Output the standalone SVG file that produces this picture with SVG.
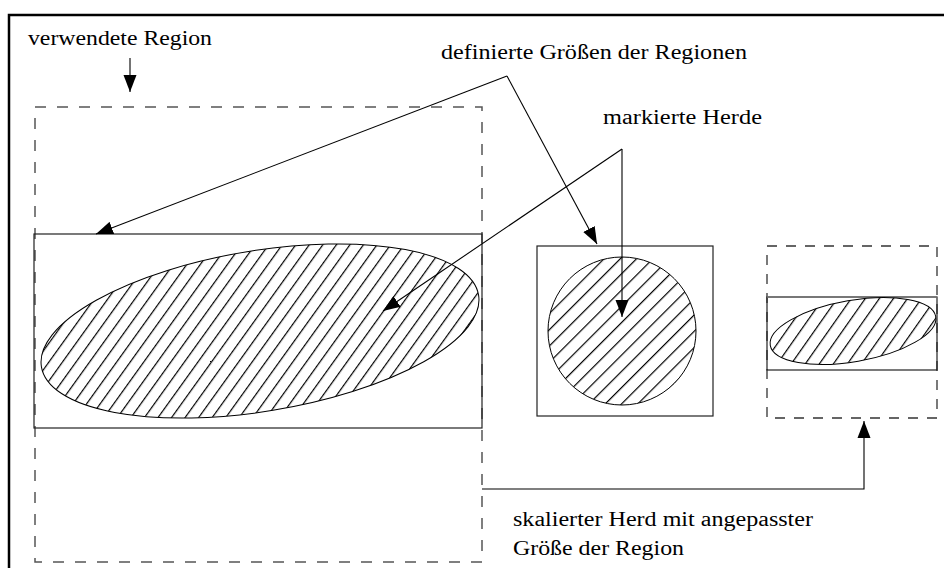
<svg xmlns="http://www.w3.org/2000/svg" width="944" height="568" viewBox="0 0 944 568">
<style>
.txt{font-family:"Liberation Serif","Times New Roman",serif;font-size:20.5px;fill:#000}
.box{fill:none;stroke:#222;stroke-width:1.2}
.dash{fill:none;stroke:#555;stroke-width:1.5;stroke-dasharray:11 11}
.dash2{fill:none;stroke:#333;stroke-width:1.3;stroke-dasharray:10 9}
.ell{stroke:#000;stroke-width:1}
.conn{fill:none;stroke:#000;stroke-width:1.1}
</style>
<defs>
<marker id="arr" markerUnits="userSpaceOnUse" viewBox="0 -7 18 14" refX="17" refY="0" markerWidth="18" markerHeight="14" orient="auto">
<path d="M0,-6.5 L17,0 L0,6.5 z" fill="#000"/>
</marker>
<pattern id="hatchA" patternUnits="userSpaceOnUse" width="11" height="11" patternTransform="rotate(45)">
<rect width="11" height="11" fill="#fff"/>
<line x1="0" y1="0" x2="0" y2="11" stroke="#000" stroke-width="2.4"/>
</pattern>
<pattern id="hatchB" patternUnits="userSpaceOnUse" width="11.5" height="11.5" patternTransform="rotate(45)">
<rect width="11.5" height="11.5" fill="#fff"/>
<line x1="0" y1="0" x2="0" y2="11.5" stroke="#000" stroke-width="2.4"/>
</pattern>
</defs>
<rect width="944" height="568" fill="#fff"/>
<path d="M9,570 L9,15 L946,15" fill="none" stroke="#000" stroke-width="2.5"/>

<g id="region-large">
<rect class="dash" x="35" y="107" width="447" height="455"/>
<rect class="box" x="34" y="234" width="448" height="194"/>
<ellipse class="ell" fill="url(#hatchA)" cx="260" cy="331" rx="221.5" ry="80.4" transform="rotate(-9.3 260 331)"/>
</g>

<g id="region-circle">
<rect class="box" x="537" y="246" width="176" height="170"/>
<circle class="ell" fill="url(#hatchB)" cx="622" cy="331" r="74"/>
</g>

<g id="region-scaled">
<rect class="dash2" x="767" y="246" width="170" height="172"/>
<rect class="box" x="767" y="297" width="170" height="73"/>
<line x1="767" y1="297" x2="937" y2="297" stroke="#777" stroke-width="1.6"/>
<ellipse class="ell" fill="url(#hatchB)" cx="853" cy="331" rx="84" ry="30.7" transform="rotate(-9.9 853 331)"/>
</g>

<g id="labels">
<text class="txt" x="28" y="45" textLength="184" lengthAdjust="spacingAndGlyphs">verwendete Region</text>
<text class="txt" x="441" y="59" textLength="306" lengthAdjust="spacingAndGlyphs">definierte Größen der Regionen</text>
<text class="txt" x="603" y="124" textLength="159" lengthAdjust="spacingAndGlyphs">markierte Herde</text>
<text class="txt" x="513" y="526" textLength="300" lengthAdjust="spacingAndGlyphs">skalierter Herd mit angepasster</text>
<text class="txt" x="513" y="555" textLength="171" lengthAdjust="spacingAndGlyphs">Größe der Region</text>
</g>

<g id="connectors">
<path class="conn" d="M130,58 L130,92" marker-end="url(#arr)"/>
<path class="conn" d="M507,76 L96,234" marker-end="url(#arr)"/>
<path class="conn" d="M507,76 L597,244" marker-end="url(#arr)"/>
<path class="conn" d="M622,149 L383,311" marker-end="url(#arr)"/>
<path class="conn" d="M622,149 L622,317" marker-end="url(#arr)"/>
<path class="conn" d="M482,489 L864,489 L864,421" marker-end="url(#arr)"/>
</g>
</svg>
